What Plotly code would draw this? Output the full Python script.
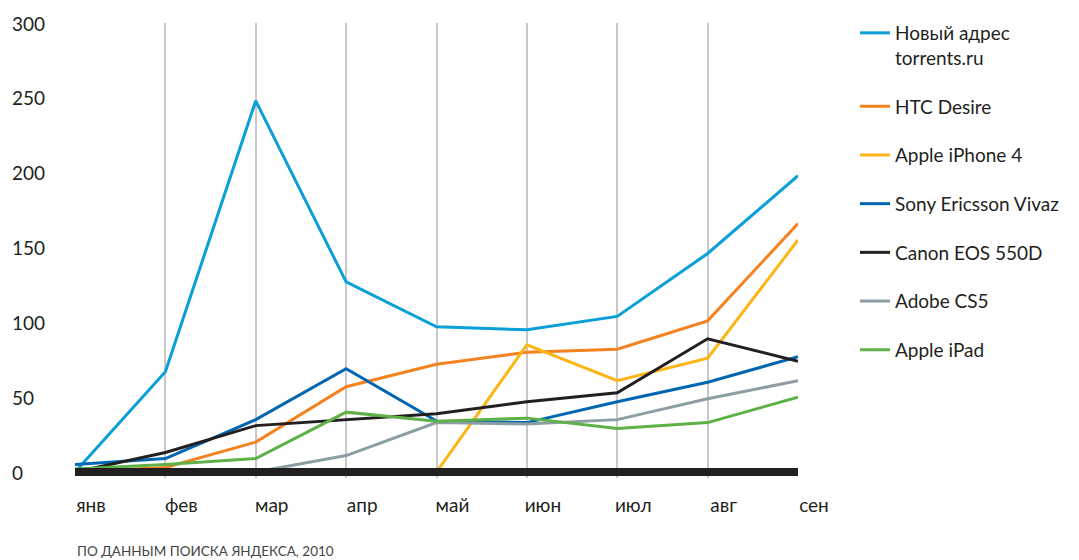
import plotly.graph_objects as go

months = ["янв", "фев", "мар", "апр", "май", "июн", "июл", "авг", "сен"]
y_ticks = [0, 50, 100, 150, 200, 250, 300]

torrents = [0, 67, 248, 127, 97, 95, 104, 146, 198]
htc = [0, 3, 20, 57, 72, 80, 82, 101, 166]
iphone = [0, 0, 0, 0, 0, 85, 61, 76, 155]
sony = [5, 9, 35, 69, 34, 33, 47, 60, 77]
canon = [0, 13, 31, 35, 39, 47, 53, 89, 74]
adobe = [0, 0, 0, 11, 33, 32, 35, 49, 61]
ipad = [2, 5, 9, 40, 34, 36, 29, 33, 50]
baseline = [0] * len(months)

series = [
    ("Новый адрес<br>torrents.ru", torrents, "#0a9fd9"),
    ("HTC Desire", htc, "#f58220"),
    ("Apple iPhone 4", iphone, "#fdb515"),
    ("Sony Ericsson Vivaz", sony, "#0066b2"),
    ("Canon EOS 550D", canon, "#231f20"),
    ("Adobe CS5", adobe, "#8c9ea4"),
    ("Apple iPad", ipad, "#5fb046"),
]

FONT = "Lato"
TXT = "#231f20"
W, H = 1079, 560
OFF = 8  # page body margin offset
Y0, Y300 = 472, 23
PXU = (Y0 - Y300) / 300.0
YMIN = -4
ML, MR = 0, 0
MT = Y300 - OFF
MB = H - (Y0 - YMIN * PXU - OFF)
PW = W - ML - MR
PH = H - MT - MB


def px_x(p):
    return (p - OFF - ML) / PW


def px_y(p):
    return ((H - MB) - (p - OFF)) / PH


fig = go.Figure()
for i, (name, vals, col) in enumerate(series):
    fig.add_trace(go.Scatter(
        x=months, y=vals, mode="lines", name=name,
        line=dict(color=col, width=3), legendgroup=f"g{i}",
        hoverinfo="skip",
    ))

fig.add_trace(go.Scatter(
    x=months, y=baseline, mode="lines", showlegend=False,
    line=dict(color="#231f20", width=8), hoverinfo="skip",
))

annotations = [dict(
    text=str(v), xref="paper", yref="y", x=px_x(10), y=v,
    xanchor="left", yanchor="middle", showarrow=False,
    font=dict(family=FONT, size=19, color=TXT),
) for v in y_ticks]

annotations.append(dict(
    text="ПО ДАННЫМ ПОИСКА ЯНДЕКСА, 2010",
    xref="paper", yref="paper",
    x=px_x(75), y=px_y(551),
    xanchor="left", yanchor="middle", showarrow=False,
    font=dict(family=FONT, size=13.5, color="#444444"),
))

fig.update_layout(
    width=W, height=H,
    margin=dict(l=ML, r=MR, t=MT, b=MB, autoexpand=False),
    paper_bgcolor="white", plot_bgcolor="white",
    font=dict(family=FONT, color=TXT, size=19),
    showlegend=True,
    legend=dict(
        x=px_x(855), xanchor="left",
        y=px_y(14), yanchor="top",
        font=dict(family=FONT, size=19, color=TXT),
        tracegroupgap=21, valign="top",
        bgcolor="rgba(0,0,0,0)",
        maxheight=540,
    ),
    xaxis=dict(
        domain=[px_x(75), px_x(798)],
        range=[0, 8], type="category", automargin=False,
        showgrid=True, gridcolor="#c8c8c8", gridwidth=1.5,
        showline=False, zeroline=False, ticks="",
        tickfont=dict(family=FONT, size=19, color=TXT),
        ticklabelshift=16, ticklabelstandoff=14,
    ),
    yaxis=dict(
        range=[YMIN, 300], tickvals=y_ticks, automargin=False,
        showticklabels=False,
        showgrid=False, zeroline=False, showline=False, ticks="",
    ),
    annotations=annotations,
)

fig.write_html("out.html")
